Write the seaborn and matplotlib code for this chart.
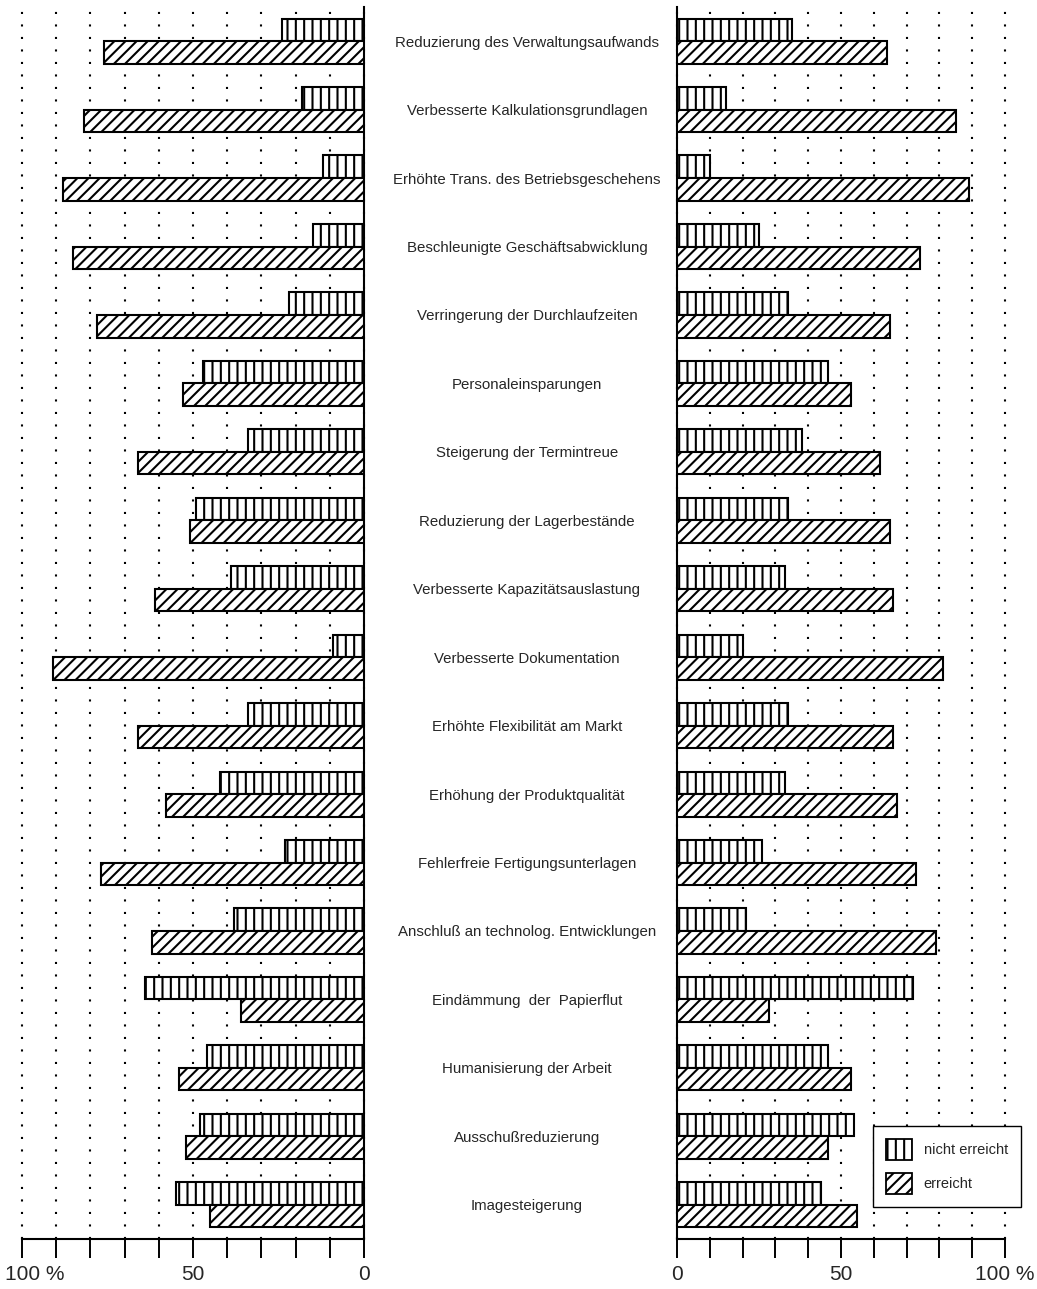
import numpy as np
import pandas as pd
import matplotlib
matplotlib.use("Agg")
import matplotlib.pyplot as plt
import matplotlib.transforms as mtransforms
from matplotlib.patches import Patch
import seaborn as sns

# -------------------------------
# Data (percent of companies)
# -------------------------------
kategorien = [
    "Reduzierung des Verwaltungsaufwands",
    "Verbesserte Kalkulationsgrundlagen",
    "Erhöhte Trans. des Betriebsgeschehens",
    "Beschleunigte Geschäftsabwicklung",
    "Verringerung der Durchlaufzeiten",
    "Personaleinsparungen",
    "Steigerung der Termintreue",
    "Reduzierung der Lagerbestände",
    "Verbesserte Kapazitätsauslastung",
    "Verbesserte Dokumentation",
    "Erhöhte Flexibilität am Markt",
    "Erhöhung der Produktqualität",
    "Fehlerfreie Fertigungsunterlagen",
    "Anschluß an technolog. Entwicklungen",
    "Eindämmung  der  Papierflut",
    "Humanisierung der Arbeit",
    "Ausschußreduzierung",
    "Imagesteigerung",
]
status = ["nicht erreicht", "erreicht"]

links_nicht = [24, 18, 12, 15, 22, 47, 34, 49, 39, 9, 34, 42, 23, 38, 64, 46, 48, 55]
links_erreicht = [76, 82, 88, 85, 78, 53, 66, 51, 61, 91, 66, 58, 77, 62, 36, 54, 52, 45]
rechts_nicht = [35, 15, 10, 25, 34, 46, 38, 34, 33, 20, 34, 33, 26, 21, 72, 46, 54, 44]
rechts_erreicht = [64, 85, 89, 74, 65, 53, 62, 65, 66, 81, 66, 67, 73, 79, 28, 53, 46, 55]

achsen_ticks = list(range(0, 101, 10))
achsen_labels = ["0", "", "", "", "", "50", "", "", "", "", "100 %"]


def long_table(nicht, erreicht):
    return pd.DataFrame({
        "Kategorie": kategorien * 2,
        "Status": [status[0]] * len(kategorien) + [status[1]] * len(kategorien),
        "Wert": nicht + erreicht,
    })


df_links = long_table(links_nicht, links_erreicht)
df_rechts = long_table(rechts_nicht, rechts_erreicht)

# -------------------------------
# Style
# -------------------------------
sns.set_style("white")
plt.rcParams["font.family"] = ["Liberation Sans", "DejaVu Sans"]
plt.rcParams["hatch.linewidth"] = 1.5
plt.rcParams["hatch.color"] = "black"

hatches = ["||", "///"]

fig = plt.figure(figsize=(10.37, 12.89), dpi=100)
ax_l = fig.add_axes([0.0212, 0.0388, 0.3298, 0.9558])
ax_r = fig.add_axes([0.6528, 0.0388, 0.3163, 0.9558])

for ax, df in [(ax_l, df_links), (ax_r, df_rechts)]:
    sns.barplot(data=df, y="Kategorie", x="Wert", hue="Status",
                hue_order=status, order=kategorien, orient="h",
                palette=["white", "white"], saturation=1,
                edgecolor="black", linewidth=1.5,
                width=0.66, gap=0, legend=False, ax=ax, zorder=3)
    for cont, h in zip(ax.containers, hatches):
        for bar in cont:
            bar.set_hatch(h)
    ax.set_xlim(0, 100)
    ax.set_xticks(achsen_ticks)
    ax.set_xticklabels(achsen_labels, fontsize=15)
    ax.tick_params(axis="x", bottom=True, direction="out", length=13.5,
                   width=1.4, pad=5, color="black")
    ax.set_xlabel("")
    ax.set_ylabel("")
    ax.grid(False)
    ax.xaxis.grid(True, linestyle=(0, (1, 5)), color="black", linewidth=1.5)
    for gl in ax.get_xgridlines():
        gl.set_clip_on(False)
    ax.set_axisbelow(True)
    for s in ax.spines.values():
        s.set_linewidth(1.5)
        s.set_color("black")
    ax.spines["top"].set_visible(False)

# left panel mirrored
ax_l.invert_xaxis()
ax_l.spines["left"].set_visible(False)
ax_l.set_yticks(range(len(kategorien)))
ax_l.set_yticklabels([])
ax_l.tick_params(axis="y", length=0)
for lab in ax_l.get_xticklabels():
    if lab.get_text() == "100 %":
        lab.set_transform(lab.get_transform() +
                          mtransforms.ScaledTranslation(0.13, 0, fig.dpi_scale_trans))

# right panel carries the category labels in the middle
ax_r.spines["right"].set_visible(False)
ax_r.tick_params(axis="y", length=0, pad=108)
for lab in ax_r.get_yticklabels():
    lab.set_horizontalalignment("center")
    lab.set_fontsize(10.8)

# legend
handles = [Patch(facecolor="white", edgecolor="black", hatch=h, linewidth=1.3)
           for h in hatches]
fig.legend(handles, status, loc="upper right",
           bbox_to_anchor=(1021 / 1037, 1 - 1126 / 1289),
           fontsize=10.5, frameon=True, fancybox=False, edgecolor="black",
           framealpha=1, handlelength=1.8, handleheight=1.8,
           borderpad=0.9, labelspacing=0.9, handletextpad=0.8,
           borderaxespad=0)

fig.savefig("out.png", dpi=100)
